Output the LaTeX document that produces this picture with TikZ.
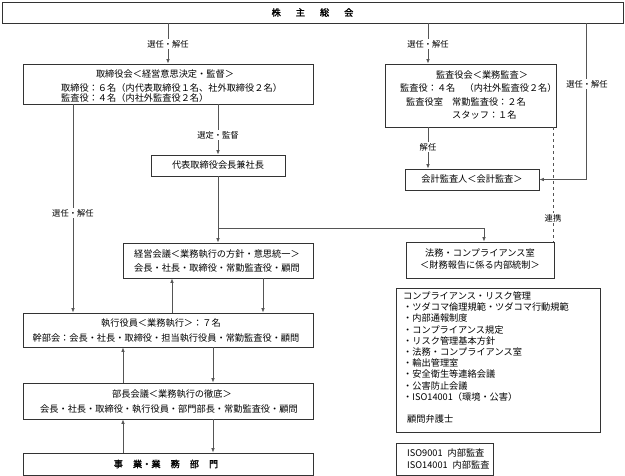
\documentclass[tikz,border=0pt]{standalone}
\usepackage{fontspec}
\setmainfont{Noto Sans CJK JP}
\newfontfamily\boldcjk[FakeBold=1.5]{Noto Sans CJK JP}
\usetikzlibrary{arrows.meta}
\definecolor{boxc}{HTML}{333333}
\definecolor{linec}{HTML}{555555}
\begin{document}
\begin{tikzpicture}[x=1pt,y=-1pt]
\tikzset{
 box/.style={draw=boxc, line width=0.8pt, inner sep=0pt, fill=white},
 txt/.style={inner sep=0pt, font=\fontsize{9.2}{11.2}\selectfont},
 lbl/.style={fill=white, inner sep=1.5pt, font=\fontsize{8.3}{9}\selectfont},
 conn/.style={draw=linec, line width=0.8pt},
 arr/.style={conn, -{Latex[length=4.5pt,width=3.6pt]}},
}
\useasboundingbox (0,0) rectangle (625,476);
% boxes
\node[box, minimum width=621pt, minimum height=21pt] (top) at (312.5,12.5) {};
\node[box, minimum width=290pt, minimum height=40pt] (bod) at (168,84) {};
\node[box, minimum width=171pt, minimum height=63pt] (kan) at (470.5,95.5) {};
\node[box, minimum width=134pt, minimum height=21pt] (daihyo) at (218,165.5) {};
\node[box, minimum width=134pt, minimum height=21pt] (kaikei) at (472,179.5) {};
\node[box, minimum width=190pt, minimum height=35pt] (keiei) at (218,260.5) {};
\node[box, minimum width=148pt, minimum height=36pt] (houmu) at (480,260) {};
\node[box, minimum width=204pt, minimum height=144pt] (comp) at (498,360) {};
\node[box, minimum width=290pt, minimum height=34pt] (shikko) at (168,330) {};
\node[box, minimum width=290pt, minimum height=36pt] (bucho) at (168,401) {};
\node[box, minimum width=290pt, minimum height=22pt] (jigyo) at (168,464) {};
\node[box, minimum width=97pt, minimum height=32pt] (iso) at (444.5,459) {};
% helper coordinates
\coordinate (xa) at (428,0);
\coordinate (xb) at (586,0);
\coordinate (xc) at (553,0);
\coordinate (xd) at (73,0);
\coordinate (xe) at (484,228);
\coordinate (xf) at (172,0);
\coordinate (xg) at (263,0);
\coordinate (xh) at (123,0);
\coordinate (xi) at (213,0);
% connectors
\draw[arr] (top.south -| bod.north) -- (bod.north);
\draw[arr] (top.south -| xa) -- (kan.north -| xa);
\draw[arr] (top.south -| xb) -- (xb |- kaikei.east) -- (kaikei.east);
\draw[arr] (kan.south -| xa) -- (kaikei.north -| xa);
\draw[conn, dashed] (kan.south -| xc) -- (houmu.north -| xc);
\draw[arr] (bod.south -| xd) -- (shikko.north -| xd);
\draw[arr] (bod.south -| daihyo.north) -- (daihyo.north);
\draw[arr] (daihyo.south) -- (keiei.north);
\draw[arr] (daihyo.south |- xe) -- (xe) -- (houmu.north -| xe);
\draw[arr] (shikko.north -| xf) -- (keiei.south -| xf);
\draw[arr] (keiei.south -| xg) -- (shikko.north -| xg);
\draw[arr] (bucho.north -| xh) -- (shikko.south -| xh);
\draw[arr] (shikko.south -| xi) -- (bucho.north -| xi);
\draw[arr] (jigyo.north -| xh) -- (bucho.south -| xh);
\draw[arr] (bucho.south -| xi) -- (jigyo.north -| xi);
% labels
\node[lbl] (l1) at (168,44) {選任・解任};
\node[lbl] (l2) at (428,44) {選任・解任};
\node[lbl] (l3) at (587,84) {選任・解任};
\node[lbl] (l4) at (428,147) {解任};
\node[lbl] (l5) at (553,218) {連携};
\node[lbl] (l6) at (73,213) {選任・解任};
\node[lbl] (l7) at (218,135) {選定・監督};
% texts
\node[txt, font=\fontsize{9.2}{11}\boldcjk] (t0) at (312.5,12.5) {株\hspace{15pt}主\hspace{15pt}総\hspace{15pt}会};
\node[txt] (t1) at (165,74) {取締役会＜経営意思決定・監督＞};
\node[txt, anchor=west] (t2) at (61,88) {取締役：６名（内代表取締役１名、社外取締役２名）};
\node[txt, anchor=west] (t3) at (61,98) {監査役：４名（内社外監査役２名）};
\node[txt] (t4) at (482,75) {監査役会＜業務監査＞};
\node[txt, anchor=west] (t5) at (400,88) {監査役：４名　（内社外監査役２名）};
\node[txt, anchor=west] (t6) at (406,102) {監査役室　常勤監査役：２名};
\node[txt, anchor=west] (t7) at (452,115) {スタッフ：１名};
\node[txt] (t8) at (daihyo.center) {代表取締役会長兼社長};
\node[txt] (t9) at (kaikei.center) {会計監査人＜会計監査＞};
\node[txt] (t10) at (217,254) {経営会議＜業務執行の方針・意思統一＞};
\node[txt] (t11) at (217,268) {会長・社長・取締役・常勤監査役・顧問};
\node[txt] (t12) at (480,253) {法務・コンプライアンス室};
\node[txt] (t13) at (480,265) {＜財務報告に係る内部統制＞};
\node[txt] (t14) at (161,323) {執行役員＜業務執行＞：７名};
\node[txt] (t15) at (166,338) {幹部会：会長・社長・取締役・担当執行役員・常勤監査役・顧問};
\node[txt] (t16) at (172,394) {部長会議＜業務執行の徹底＞};
\node[txt] (t17) at (169,409) {会長・社長・取締役・執行役員・部門部長・常勤監査役・顧問};
\node[txt, font=\fontsize{9.2}{11}\boldcjk] (t18) at (166,464) {事\hspace{10pt}業・業\hspace{10pt}務\hspace{10pt}部\hspace{10pt}門};
\node[txt, anchor=north west, align=left] (t19) at (403,291.5) {コンプライアンス・リスク管理\\
・ツダコマ倫理規範・ツダコマ行動規範\\
・内部通報制度\\
・コンプライアンス規定\\
・リスク管理基本方針\\
・法務・コンプライアンス室\\
・輸出管理室\\
・安全衛生等連絡会議\\
・公害防止会議\\
・ISO14001（環境・公害）\\[11.2pt]
\hspace{4pt}顧問弁護士};
\node[txt, anchor=west, align=left] (t20) at (407,459) {ISO9001\hspace{5pt}内部監査\\ISO14001\hspace{5pt}内部監査};
\end{tikzpicture}
\end{document}
